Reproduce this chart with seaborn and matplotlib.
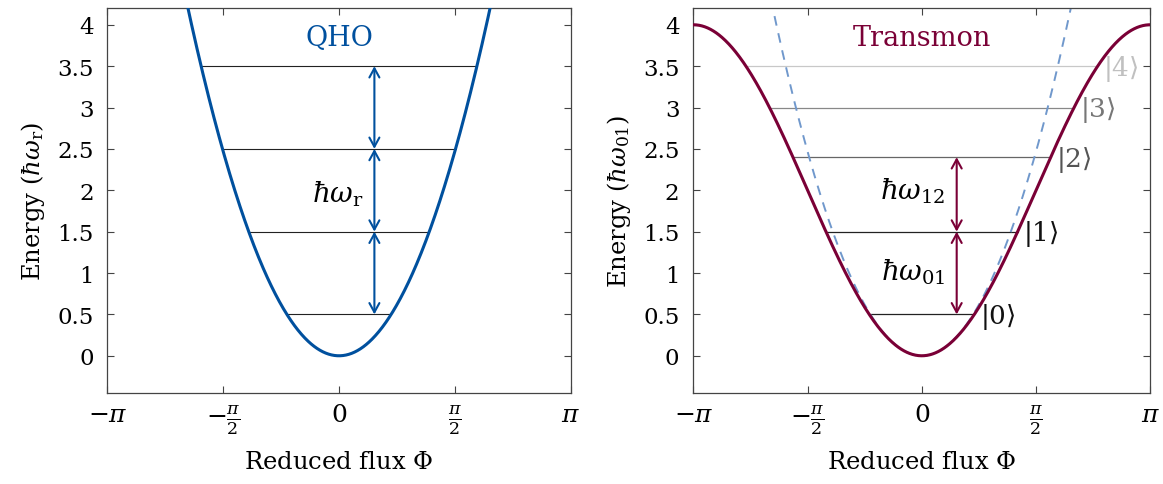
import numpy as np
import pandas as pd
import matplotlib
matplotlib.use("Agg")
import matplotlib.pyplot as plt
import seaborn as sns

# ---- data ----
qho_levels = [0.5, 1.5, 2.5, 3.5]
tr_levels = [0.5, 1.5, 2.4, 3.0, 3.5]
tr_state_labels = [r"$|0\rangle$", r"$|1\rangle$", r"$|2\rangle$", r"$|3\rangle$", r"$|4\rangle$"]
tr_level_colors = ["#222222", "#222222", "#666666", "#888888", "#c8c8c8"]
tr_label_colors = ["#111111", "#111111", "#555555", "#777777", "#c0c0c0"]
xtick_vals = [-np.pi, -np.pi / 2, 0, np.pi / 2, np.pi]
xtick_labels = [r"$-\pi$", r"$-\frac{\pi}{2}$", r"$0$", r"$\frac{\pi}{2}$", r"$\pi$"]
ytick_vals = [0, 0.5, 1, 1.5, 2, 2.5, 3, 3.5, 4]
ytick_labels = ["0", "0.5", "1", "1.5", "2", "2.5", "3", "3.5", "4"]
arrow_x = 0.48

BLUE = "#00509e"
MAROON = "#7a0036"
DASH = "#7098cc"

sns.set_theme(style="ticks")
plt.rcParams["font.family"] = ["DejaVu Serif"]
plt.rcParams["mathtext.fontset"] = "dejavuserif"
plt.rcParams["text.color"] = "black"
plt.rcParams["axes.labelcolor"] = "black"
plt.rcParams["axes.edgecolor"] = "#444444"
plt.rcParams["xtick.color"] = "#444444"
plt.rcParams["ytick.color"] = "#444444"
plt.rcParams["xtick.labelcolor"] = "black"
plt.rcParams["ytick.labelcolor"] = "black"

phi = np.linspace(-np.pi, np.pi, 801)
df_q = pd.DataFrame({"phi": phi, "E": phi ** 2})
df_t = pd.DataFrame({"phi": phi, "E": 2 * (1 - np.cos(phi))})

fig = plt.figure(figsize=(11.63, 4.85), dpi=100)
axL = fig.add_axes([0.0924, 0.1876, 0.4906 - 0.0924, 0.981 - 0.1876])
axR = fig.add_axes([0.5962, 0.1876, 0.9890 - 0.5962, 0.981 - 0.1876])

def style(ax, ylab):
    ax.set_xlim(-np.pi, np.pi)
    ax.set_ylim(-0.45, 4.2)
    ax.set_xticks(xtick_vals)
    ax.set_xticklabels(xtick_labels, fontsize=18)
    ax.set_yticks(ytick_vals)
    ax.set_yticklabels(ytick_labels, fontsize=16.5)
    ax.tick_params(direction="in", top=True, right=True, length=5, width=0.8)
    ax.tick_params(axis="x", pad=7)
    ax.tick_params(axis="y", pad=10)
    for s in ax.spines.values():
        s.set_linewidth(0.9)
    ax.set_xlabel(r"Reduced flux $\Phi$", fontsize=17.5, labelpad=10)
    ax.set_ylabel(ylab, fontsize=17.5, labelpad=7)

def arrow(ax, y0, y1, color):
    ax.annotate("", xy=(arrow_x, y1), xytext=(arrow_x, y0),
                arrowprops=dict(arrowstyle="<->,head_length=0.55,head_width=0.3",
                                color=color, lw=1.5, shrinkA=0, shrinkB=0))

# ---- left: QHO ----
sns.lineplot(data=df_q, x="phi", y="E", ax=axL, color=BLUE, lw=2.2, zorder=3)
for E in qho_levels:
    xe = np.sqrt(E)
    axL.plot([-xe, xe], [E, E], color="#222222", lw=0.8, zorder=2)
for a, b in zip(qho_levels[:-1], qho_levels[1:]):
    arrow(axL, a, b, BLUE)
axL.text(arrow_x - 0.15, 1.97, r"$\hbar\omega_\mathrm{r}$", fontsize=20,
         ha="right", va="center")
axL.text(0, 3.85, "QHO", color=BLUE, fontsize=19.5, ha="center", va="center")
style(axL, r"Energy ($\hbar\omega_\mathrm{r}$)")

# ---- right: Transmon ----
sns.lineplot(data=df_q, x="phi", y="E", ax=axR, color=DASH, lw=1.4,
             linestyle=(0, (5, 4)), zorder=2)
sns.lineplot(data=df_t, x="phi", y="E", ax=axR, color=MAROON, lw=2.2, zorder=3)
for E, lc, tc, lab in zip(tr_levels, tr_level_colors, tr_label_colors, tr_state_labels):
    xe = np.arccos(1 - E / 2)
    axR.plot([-xe, xe], [E, E], color=lc, lw=0.9, zorder=1)
    axR.text(xe + 0.08, E - 0.02, lab, color=tc, fontsize=19, ha="left", va="center")
arrow(axR, tr_levels[0], tr_levels[1], MAROON)
arrow(axR, tr_levels[1], tr_levels[2], MAROON)
axR.text(arrow_x - 0.15, 2.0, r"$\hbar\omega_{12}$", fontsize=20, ha="right", va="center")
axR.text(arrow_x - 0.15, 1.02, r"$\hbar\omega_{01}$", fontsize=20, ha="right", va="center")
axR.text(0, 3.85, "Transmon", color=MAROON, fontsize=19.5, ha="center", va="center")
style(axR, r"Energy ($\hbar\omega_{01}$)")

fig.savefig("out.png", dpi=100)
